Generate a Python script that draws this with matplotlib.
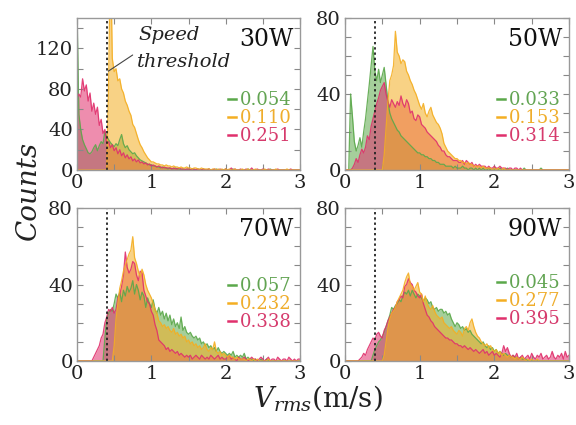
import numpy as np
import matplotlib
matplotlib.use("Agg")
import matplotlib.pyplot as plt
from matplotlib.lines import Line2D
from matplotlib.ticker import MultipleLocator

plt.rcParams['font.family'] = ['DejaVu Serif']
plt.rcParams['mathtext.fontset'] = 'dejavuserif'

# ---------------- data ----------------
bin_width = 0.025          # m/s, histogram sampling
speed_threshold = 0.4      # m/s
panel_labels = ["30W", "50W", "70W", "90W"]
legend_values = [["0.054", "0.110", "0.251"],
                 ["0.033", "0.153", "0.314"],
                 ["0.057", "0.232", "0.338"],
                 ["0.045", "0.277", "0.395"]]
y_max = [150, 80, 80, 80]
y_major = [[0, 40, 80, 120], [0, 40, 80], [0, 40, 80], [0, 40, 80]]
y_minor_step = [20, 10, 10, 10]
x_ticks = [0, 1, 2, 3]

# 30W
g30 = [160, 55, 40, 30, 25, 21, 17, 16, 18, 22,
       25, 19, 24, 28, 26, 38, 33, 30, 27, 25,
       23, 26, 24, 30, 35, 26, 22, 24, 20, 18,
       16, 17, 14, 12, 10, 9, 8, 7, 6, 5,
       5, 4, 4, 3, 3, 2, 3, 2, 2, 1,
       2, 1, 1, 2, 1, 1, 0, 1, 1, 0,
       1, 0, 1, 0, 0, 1, 0, 0, 1, 0,
       0, 1, 0, 0, 0, 1, 0, 0, 0, 0,
       1, 0, 0, 0, 1, 0, 0, 0, 0, 0,
       0, 0, 1, 0, 0, 0, 0, 0, 0, 0,
       0, 0, 0, 0, 1, 0, 0, 0, 0, 0,
       0, 0, 0, 0, 0, 0, 0, 0, 0, 0,
       0]
o30 = [0, 0, 0, 0, 0, 0, 0, 0, 0, 0,
       0, 0, 0, 0, 0, 0, 0, 85, 220, 110,
       97, 100, 88, 90, 80, 76, 68, 64, 58, 54,
       45, 42, 36, 30, 25, 22, 18, 15, 12, 10,
       8, 8, 7, 6, 6, 5, 5, 4, 5, 4,
       4, 3, 4, 3, 3, 2, 3, 2, 2, 3,
       2, 2, 1, 2, 2, 1, 1, 2, 1, 1,
       1, 1, 0, 1, 1, 0, 1, 0, 1, 0,
       1, 0, 1, 0, 0, 1, 0, 0, 0, 1,
       0, 0, 1, 0, 0, 0, 1, 0, 0, 0,
       0, 1, 0, 0, 0, 0, 0, 1, 0, 0,
       0, 0, 0, 1, 0, 0, 0, 0, 0, 0,
       0]
r30 = [70, 75, 72, 90, 78, 84, 68, 76, 58, 66,
       55, 62, 44, 50, 36, 40, 26, 28, 22, 25,
       19, 22, 16, 20, 14, 17, 12, 15, 11, 13,
       9, 11, 8, 10, 7, 8, 6, 7, 5, 6,
       4, 5, 4, 3, 4, 3, 2, 3, 2, 2,
       2, 1, 2, 1, 1, 2, 1, 1, 0, 1,
       1, 0, 1, 1, 0, 1, 0, 0, 1, 0,
       0, 1, 0, 0, 1, 0, 0, 1, 0, 0,
       1, 0, 0, 2, 0, 1, 0, 0, 1, 0,
       0, 1, 0, 0, 2, 0, 0, 1, 0, 0,
       1, 0, 0, 1, 0, 0, 0, 0, 1, 0,
       0, 0, 0, 0, 0, 1, 0, 0, 0, 0,
       0]

# 50W
g50 = [0, 0, 0, 40, 28, 15, 10, 13, 17, 12,
       20, 27, 36, 45, 55, 65, 52, 47, 53, 46,
       50, 54, 45, 36, 30, 27, 25, 23, 21, 20,
       18, 17, 16, 15, 14, 13, 12, 11, 10, 9,
       9, 8, 8, 7, 7, 6, 6, 5, 5, 4,
       4, 3, 3, 3, 2, 2, 2, 2, 1, 2,
       1, 1, 1, 2, 1, 1, 0, 1, 1, 0,
       1, 0, 1, 0, 1, 0, 0, 1, 0, 0,
       1, 0, 0, 1, 0, 0, 0, 1, 0, 0,
       0, 0, 0, 0, 0, 0, 1, 0, 0, 0,
       0, 0, 0, 0, 0, 1, 0, 0, 0, 0,
       0, 0, 0, 0, 0, 0, 0, 0, 0, 0,
       0]
o50 = [0, 0, 0, 0, 0, 0, 0, 0, 0, 0,
       0, 0, 0, 0, 0, 0, 0, 0, 0, 0,
       0, 8, 22, 36, 47, 50, 55, 73, 62, 60,
       56, 58, 57, 52, 50, 47, 45, 42, 40, 37,
       34, 32, 35, 30, 28, 31, 33, 29, 27, 25,
       24, 22, 19, 14, 12, 10, 9, 8, 7, 6,
       6, 5, 5, 4, 4, 3, 4, 3, 3, 2,
       2, 2, 2, 1, 2, 1, 1, 1, 1, 0,
       1, 0, 1, 0, 0, 1, 0, 0, 0, 0,
       0, 0, 0, 0, 0, 0, 0, 0, 0, 0,
       0, 0, 0, 0, 0, 0, 0, 0, 0, 0,
       0, 0, 0, 0, 0, 0, 0, 0, 0, 0,
       0]
r50 = [0, 0, 0, 0, 1, 3, 6, 4, 8, 11,
       9, 12, 18, 16, 23, 27, 31, 35, 38, 42,
       44, 46, 40, 36, 33, 37, 35, 33, 36, 34,
       39, 35, 33, 37, 35, 30, 31, 27, 26, 29,
       28, 24, 23, 22, 20, 19, 18, 17, 16, 15,
       13, 12, 10, 10, 8, 7, 7, 6, 5, 5,
       5, 4, 4, 5, 3, 5, 4, 3, 4, 2,
       3, 2, 3, 2, 2, 2, 1, 2, 1, 1,
       2, 1, 1, 2, 1, 1, 1, 0, 1, 1,
       0, 1, 1, 0, 1, 0, 0, 0, 0, 0,
       0, 0, 0, 0, 0, 0, 0, 0, 0, 0,
       0, 0, 0, 0, 0, 0, 0, 0, 0, 0,
       0]

# 70W
g70 = [0, 0, 0, 0, 0, 0, 0, 0, 0, 0,
       0, 0, 0, 0, 0, 12, 22, 25, 27, 26,
       30, 35, 33, 36, 31, 37, 34, 39, 36, 38,
       42, 35, 40, 37, 32, 36, 34, 28, 33, 30,
       28, 32, 27, 25, 28, 24, 26, 22, 25, 21,
       24, 19, 22, 18, 20, 17, 23, 16, 18, 15,
       14, 15, 13, 12, 13, 11, 12, 9, 10, 8,
       9, 7, 8, 6, 7, 5, 7, 5, 4, 5,
       4, 3, 4, 3, 5, 2, 3, 2, 3, 2,
       4, 1, 2, 1, 1, 0, 1, 0, 0, 1,
       0, 0, 1, 0, 0, 0, 0, 0, 0, 0,
       0, 0, 0, 0, 0, 0, 0, 0, 0, 0,
       0]
o70 = [0, 0, 0, 0, 0, 0, 0, 0, 0, 0,
       0, 0, 0, 0, 0, 0, 0, 0, 0, 0,
       8, 22, 30, 38, 42, 47, 50, 53, 56, 58,
       65, 54, 51, 47, 44, 48, 45, 40, 37, 35,
       33, 30, 27, 25, 21, 20, 18, 19, 17, 18,
       16, 15, 17, 14, 15, 13, 14, 12, 13, 10,
       11, 9, 10, 8, 9, 7, 8, 6, 7, 9,
       6, 5, 7, 6, 10, 5, 4, 5, 3, 4,
       3, 2, 3, 2, 2, 1, 2, 1, 1, 1,
       1, 0, 1, 1, 0, 1, 0, 1, 0, 0,
       0, 0, 0, 1, 0, 0, 0, 0, 0, 0,
       0, 0, 0, 0, 0, 0, 0, 0, 0, 0,
       0]
r70 = [0, 0, 0, 0, 0, 0, 0, 0, 0, 2,
       4, 6, 8, 12, 14, 20, 23, 27, 26, 28,
       25, 27, 33, 35, 39, 45, 57, 49, 46, 48,
       52, 51, 45, 42, 47, 46, 37, 34, 31, 30,
       26, 24, 19, 16, 11, 10, 9, 8, 6, 7,
       5, 6, 5, 4, 5, 3, 4, 3, 2, 3,
       2, 3, 1, 2, 3, 2, 1, 3, 2, 1,
       2, 1, 3, 2, 1, 2, 3, 1, 2, 1,
       1, 2, 3, 1, 2, 1, 0, 2, 1, 1,
       2, 1, 0, 1, 2, 1, 1, 0, 1, 2,
       1, 0, 1, 2, 0, 1, 1, 0, 2, 1,
       0, 1, 1, 0, 2, 1, 0, 1, 0, 1,
       1]

# 90W
g90 = [0, 0, 0, 0, 0, 0, 0, 0, 0, 0,
       0, 0, 0, 0, 0, 3, 6, 8, 10, 11,
       13, 15, 18, 21, 24, 28, 27, 29, 30, 32,
       31, 34, 36, 35, 37, 34, 37, 35, 33, 35,
       34, 33, 31, 33, 32, 30, 31, 28, 27, 28,
       26, 27, 27, 25, 26, 24, 25, 22, 20, 18,
       20, 19, 17, 18, 16, 17, 15, 16, 14, 13,
       12, 11, 10, 9, 10, 8, 7, 8, 6, 7,
       5, 6, 4, 5, 4, 3, 4, 3, 3, 2,
       3, 2, 2, 1, 2, 1, 1, 1, 0, 0,
       0, 0, 0, 0, 0, 0, 0, 0, 0, 0,
       0, 0, 0, 0, 0, 0, 0, 0, 0, 0,
       0]
o90 = [0, 0, 0, 0, 0, 0, 0, 0, 0, 0,
       0, 0, 0, 0, 0, 0, 0, 0, 0, 0,
       0, 3, 10, 17, 22, 25, 26, 28, 31, 33,
       35, 37, 41, 44, 46, 40, 39, 37, 39, 41,
       36, 35, 31, 34, 30, 28, 27, 29, 26, 24,
       23, 22, 23, 20, 19, 18, 17, 18, 16, 15,
       14, 16, 15, 13, 17, 18, 16, 20, 22, 18,
       15, 13, 12, 10, 9, 8, 9, 7, 8, 6,
       5, 6, 4, 5, 3, 4, 3, 2, 3, 2,
       2, 1, 2, 1, 1, 2, 1, 0, 1, 0,
       1, 0, 0, 1, 0, 0, 0, 0, 0, 0,
       0, 0, 0, 0, 0, 0, 0, 0, 0, 0,
       0]
r90 = [0, 0, 0, 0, 0, 0, 0, 0, 1, 2,
       4, 3, 6, 8, 10, 12, 11, 14, 15, 13,
       12, 16, 18, 21, 23, 25, 27, 28, 31, 32,
       34, 33, 39, 40, 43, 41, 40, 37, 36, 34,
       33, 35, 30, 27, 24, 23, 21, 20, 18, 17,
       16, 15, 14, 13, 12, 12, 11, 11, 10, 9,
       9, 8, 8, 7, 8, 7, 6, 7, 6, 5,
       6, 5, 4, 5, 6, 4, 5, 3, 4, 5,
       3, 4, 3, 2, 4, 8, 5, 7, 4, 2,
       3, 2, 4, 1, 2, 3, 1, 2, 3, 1,
       4, 2, 1, 3, 2, 4, 1, 2, 3, 1,
       2, 5, 2, 1, 3, 2, 4, 1, 5, 2,
       3]

panels = [(g30, o30, r30), (g50, o50, r50), (g70, o70, r70), (g90, o90, r90)]
colors = ["#5ba84a", "#f4ae22", "#e0306c"]       # green, orange, red
text_colors = ["#62a452", "#efad2c", "#d63a6c"]
draw_order = [0, 2, 1]                             # green, red, then orange on top

# ---------------- figure ----------------
fig = plt.figure(figsize=(5.76, 4.25), dpi=100)
W, H = 576, 425
boxes = [(77, 18, 300, 170), (345, 18, 569, 170),
         (77, 208, 300, 361), (345, 208, 569, 361)]
legend_y = [0.34, 0.34, 0.37, 0.39]

axes = []
for k, (x0, y0, x1, y1) in enumerate(boxes):
    ax = fig.add_axes([x0 / W, 1 - y1 / H, (x1 - x0) / W, (y1 - y0) / H])
    axes.append(ax)
    series = panels[k]
    n = len(series[0])
    v = np.arange(n) * bin_width
    for j in draw_order:
        s, c = series[j], colors[j]
        ax.fill_between(v, np.asarray(s, float), 0, color=c, alpha=0.55, lw=0)
        ax.plot(v, s, color=c, lw=0.9, alpha=0.9)
    ax.axvline(speed_threshold, color="#222222", ls=(0, (1.3, 1.6)), lw=1.3)
    ax.set_xlim(0, 3)
    ax.set_ylim(0, y_max[k])
    ax.set_xticks(x_ticks)
    ax.xaxis.set_minor_locator(MultipleLocator(0.5))
    ax.set_yticks(y_major[k])
    ax.yaxis.set_minor_locator(MultipleLocator(y_minor_step[k]))
    ax.tick_params(which="both", direction="in", top=True, right=True,
                   color="#888888", labelsize=14, labelcolor="#222222", pad=3)
    ax.tick_params(which="major", length=4, width=0.8)
    ax.tick_params(which="minor", length=4, width=0.8)
    for sp in ax.spines.values():
        sp.set_color("#999999")
        sp.set_linewidth(1.0)
    ax.text(0.97, 0.86, panel_labels[k], transform=ax.transAxes,
            ha="right", va="center", fontsize=17, color="#111111")
    handles = [Line2D([], [], color=c, lw=1.8) for c in colors]
    ax.legend(handles, legend_values[k], loc="center right",
              bbox_to_anchor=(1.01, legend_y[k]), frameon=False,
              fontsize=13, handlelength=0.45, handletextpad=0.2,
              labelspacing=0.0, borderpad=0.1, labelcolor=text_colors)

# speed threshold annotation on first panel
axes[0].annotate("", xy=(0.39, 96), xytext=(0.78, 115),
                 arrowprops=dict(arrowstyle="-", color="#444444", lw=0.8))
axes[0].text(0.82, 133, "Speed", style="italic", fontsize=14,
             ha="left", va="center", color="#222222")
axes[0].text(0.80, 107, "threshold", style="italic", fontsize=14,
             ha="left", va="center", color="#222222")

fig.text(28 / W, 1 - 190 / H, "Counts", rotation=90, style="italic",
         fontsize=20, ha="center", va="center", color="#222222")
fig.text(318 / W, 1 - 398 / H, r"$V_{rms}$(m/s)", fontsize=20,
         ha="center", va="center", color="#222222")

fig.savefig("out.png", dpi=100)
